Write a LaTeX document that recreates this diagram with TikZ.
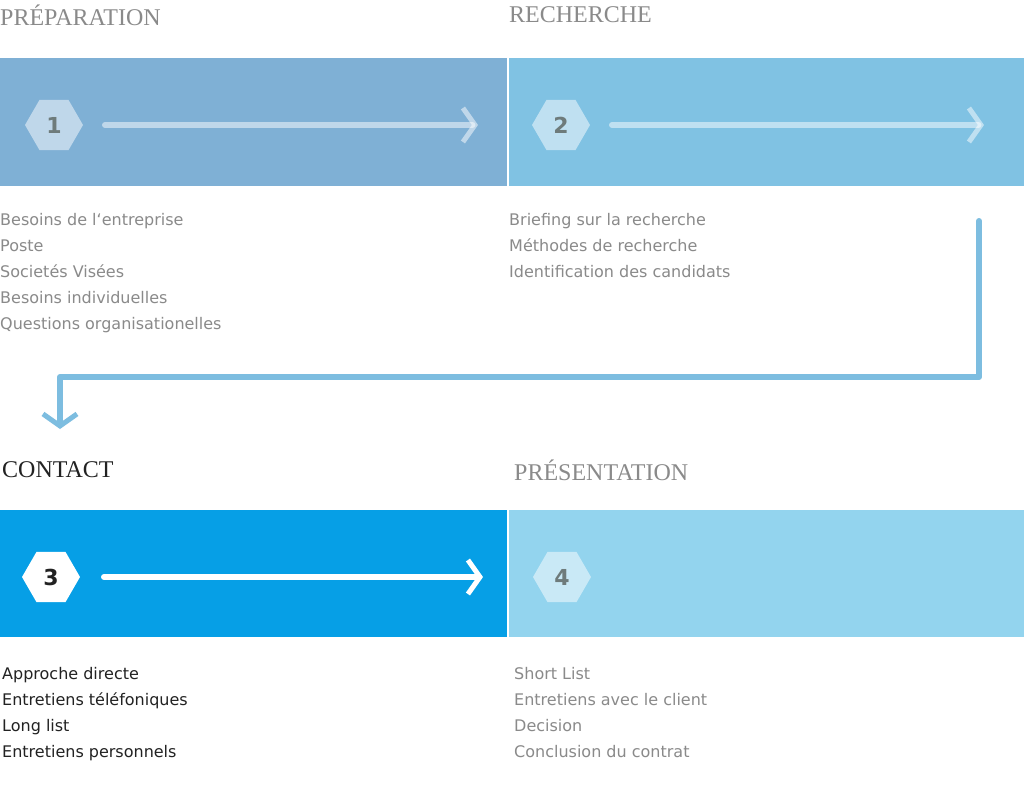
\documentclass[tikz,border=0pt]{standalone}
\usepackage{fontspec}
\setmainfont{DejaVu Sans}
\newfontfamily\titlefont{Liberation Serif}
\usetikzlibrary{shapes.geometric,arrows.meta}
\definecolor{bandA}{HTML}{7FB0D5}
\definecolor{bandB}{HTML}{80C2E3}
\definecolor{bandC}{HTML}{069FE6}
\definecolor{bandD}{HTML}{93D4EE}
\definecolor{greytxt}{HTML}{8A8A8A}
\definecolor{darktxt}{HTML}{222222}
\definecolor{conn}{HTML}{7DBDE0}
\definecolor{numgrey}{HTML}{6E7B7B}
\begin{document}
\begin{tikzpicture}[x=1pt,y=-1pt,
  hexa/.style={regular polygon,regular polygon sides=6,shape border rotate=0,minimum size=58pt,inner sep=0pt,font=\bfseries\fontsize{22}{22}\selectfont},
  ttl/.style={anchor=west,font=\titlefont\fontsize{24}{28}\selectfont,text=greytxt,inner sep=0pt},
  item/.style={anchor=north west,align=left,font=\fontsize{16}{26}\selectfont,text=greytxt,inner sep=0pt},
  flow/.style={line width=6pt,line cap=round,-{Straight Barb[length=12pt,width=34pt,line width=5pt]}}]
\useasboundingbox (0,0) rectangle (1024,785);
\fill[white] (0,0) rectangle (1024,785);
\fill[bandA] (0,58) rectangle (507,186);
\fill[bandB] (509,58) rectangle (1024,186);
\fill[bandC] (0,510) rectangle (507,637);
\fill[bandD] (509,510) rectangle (1024,637);
\node[ttl] (t1) at (0,15) {PRÉPARATION};
\node[ttl] (t2) at (509,15) {RECHERCHE};
\node[ttl,text=darktxt] (t3) at (2,470) {CONTACT};
\node[ttl] (t4) at (514,470) {PRÉSENTATION};
\node[hexa,fill=white,fill opacity=0.5,text opacity=1,text=numgrey] (h1) at (54,125) {1};
\node[hexa,fill=white,fill opacity=0.5,text opacity=1,text=numgrey] (h2) at (561,125) {2};
\node[hexa,fill=white,text=darktxt] (h3) at (51,577) {3};
\node[hexa,fill=white,fill opacity=0.5,text opacity=1,text=numgrey] (h4) at (562,577) {4};
\coordinate (a1s) at (105,125); \coordinate (a1e) at (478,125);
\coordinate (a2s) at (612,125); \coordinate (a2e) at (984,125);
\coordinate (a3s) at (104,577); \coordinate (a3e) at (483,577);
\draw[flow,white,opacity=0.5] (a1s) -- (a1e);
\draw[flow,white,opacity=0.5] (a2s) -- (a2e);
\draw[flow,white] (a3s) -- (a3e);
\coordinate (cs) at (979,221); \coordinate (c1) at (979,377);
\coordinate (c2) at (60,377); \coordinate (ce) at (60,429);
\draw[flow,conn,line join=round] (cs) -- (c1) -- (c2) -- (ce);
\node[item] (l1) at (0,213) {Besoins de l‘entreprise\\Poste\\Societés Visées\\Besoins individuelles\\Questions organisationelles};
\node[item] (l2) at (509,213) {Briefing sur la recherche\\Méthodes de recherche\\Identification des candidats};
\node[item,text=darktxt] (l3) at (2,667) {Approche directe\\Entretiens téléfoniques\\Long list\\Entretiens personnels};
\node[item] (l4) at (514,667) {Short List\\Entretiens avec le client\\Decision\\Conclusion du contrat};
\end{tikzpicture}
\end{document}
